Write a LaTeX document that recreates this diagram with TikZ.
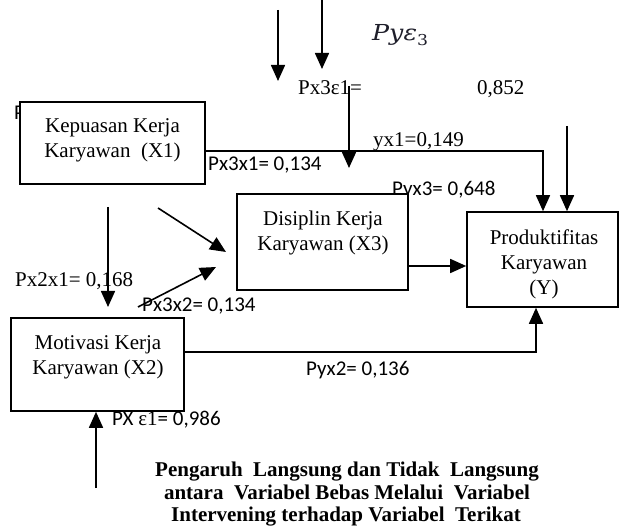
\documentclass[tikz,border=0pt]{standalone}
\usepackage{fontspec}
\usepackage{graphicx}
\usetikzlibrary{arrows.meta}
\newfontfamily\tnrfont{Liberation Serif}
\newfontfamily\calfont{Carlito}
\newfontfamily\djsfont{DejaVu Serif}
\begin{document}
\begin{tikzpicture}[x=1pt,y=-1pt,
  box/.style={draw, line width=1.6pt, fill=white, inner sep=0pt, rectangle},
  arr/.style={line width=1.6pt, -{Triangle[length=16pt,width=14pt]}},
  ser/.style={font=\tnrfont\fontsize{21}{25}\selectfont, inner sep=0pt},
  san/.style={font=\calfont\fontsize{21}{25}\selectfont, inner sep=0pt},
  capt/.style={font=\tnrfont\bfseries\fontsize{21}{24}\selectfont, inner sep=0pt, anchor=base}]
\useasboundingbox (0,0) rectangle (623,526);
% labels partly hidden by boxes
\node[san, anchor=base west] (pfrag) at (14,120) {P};
\node[san, anchor=base west] (lpyx3) at (392,196) {Pyx3= 0,648};
% boxes
\node[box, minimum width=185pt, minimum height=82pt] (x1) at (112.5,143) {};
\node[box, minimum width=171pt, minimum height=96pt] (x3) at (322.5,242) {};
\node[box, minimum width=151pt, minimum height=95pt] (yb) at (542.5,259.5) {};
\node[box, minimum width=173pt, minimum height=93pt] (x2) at (97.5,364.5) {};
% box texts
\node[ser, align=center] (x1t) at (112.5,140) {Kepuasan Kerja\\Karyawan\ \ (X1)};
\node[ser, align=center] (x3t) at (323,232.6) {Disiplin Kerja\\Karyawan (X3)};
\node[ser, align=center] (yt) at (544,264) {Produktifitas\\Karyawan\\(Y)};
\node[ser, align=center] (x2t) at (98,357.6) {Motivasi Kerja\\Karyawan (X2)};
% other labels
\node[anchor=base west, inner sep=0pt, text={rgb,255:red,30;green,30;blue,42}] (pye) at (372,41)
  {\scalebox{1.15}[1]{\djsfont\itshape\fontsize{22}{24}\selectfont Pyε\raisebox{-5pt}{\upshape\fontsize{15}{15}\selectfont 3}}};
\node[ser, anchor=base west] (px3e) at (298,95) {Px3ε1=};
\node[ser, anchor=base west] (v852) at (477,95) {0,852};
\node[ser, anchor=base west] (lyx1) at (373,147) {yx1=0,149};
\node[san, anchor=base west] (lpx3x1) at (208,171) {Px3x1= 0,134};
\node[ser, anchor=base west] (lpx2x1) at (15,287) {Px2x1= 0,168};
\node[san, anchor=base west] (lpx3x2) at (142,312) {Px3x2= 0,134};
\node[san, anchor=base west] (lpyx2) at (306,375) {Pyx2= 0,136};
\node[san, anchor=base west] (lpxe) at (112,425) {PX {\tnrfont ε1}= 0,986};
% caption
\node[capt] (c1) at (347,476) {Pengaruh\ \ Langsung dan Tidak\ \ Langsung};
\node[capt] (c2) at (347,499.5) {antara\ \ Variabel Bebas Melalui\ \ Variabel};
\node[capt] (c3) at (346,521.5) {Intervening terhadap Variabel\ \ Terikat};
% free ends
\coordinate (a0) at (278,10);  \coordinate (a1) at (278,81);
\coordinate (b0) at (322,0);   \coordinate (b1) at (322,69);
\coordinate (c0) at (349,86);  \coordinate (c1e) at (349,168);
\coordinate (h0) at (567,126);
\coordinate (k1) at (543,151);
\coordinate (d0) at (108,207); \coordinate (d1) at (108,307);
\coordinate (e0) at (158,208); \coordinate (e1) at (226,252);
\coordinate (f0) at (138,307); \coordinate (f1) at (216,267);
\coordinate (k2) at (440,266);
\coordinate (k3) at (536,352);
\coordinate (g0) at (96,488);
% connectors
\draw[arr] (a0) -- (a1);
\draw[arr] (b0) -- (b1);
\draw[arr] (c0) -- (c1e);
\draw[arr] (h0) -- (yb.north -| h0);
\draw[arr] (x1.east |- k1) -| (yb.north -| k1);
\draw[arr] (d0) -- (d1);
\draw[arr] (e0) -- (e1);
\draw[arr] (f0) -- (f1);
\draw[arr] (x3.east |- k2) -- (yb.west |- k2);
\draw[arr] (x2.east |- k3) -| (yb.south -| k3);
\draw[arr] (g0) -- (x2.south -| g0);
\end{tikzpicture}
\end{document}
